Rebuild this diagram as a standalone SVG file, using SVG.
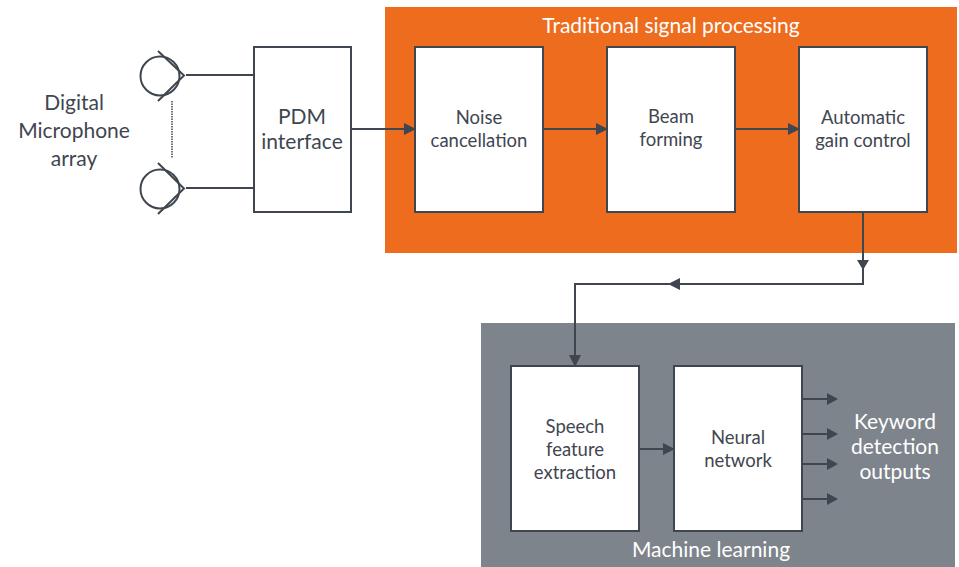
<svg xmlns="http://www.w3.org/2000/svg" width="959" height="567" viewBox="0 0 959 567">
<style>
.b{fill:#fff;stroke:#3f4650;stroke-width:2}
.c{fill:none;stroke:#3f4650;stroke-width:2}
.a{fill:#3f4650;stroke:none}
text{font-family:Lato,"Open Sans",sans-serif;text-anchor:middle;fill:#3f4650}
.s{font-size:18.5px}
.l{font-size:21px}
.w{fill:#fff;font-size:21px}
</style>
<rect width="959" height="567" fill="#fff"/>
<g id="traditional-group"><rect x="385" y="7" width="572" height="246" fill="#ee6c1d"/><text class="w" x="671" y="33">Traditional signal processing</text></g>
<g id="ml-group"><rect x="481" y="323" width="474" height="244" fill="#7d848b"/><text class="w" x="711" y="557">Machine learning</text></g>
<g id="connectors">
<path class="c" d="M186 75H254M186 188H254"/>
<path class="c" d="M172 101V158" stroke-width="1" style="stroke-width:1.5;stroke-dasharray:1.5 1"/>
<path class="c" d="M351 129H405"/><path class="a" d="M404 123L416 129L404 135Z"/>
<path class="c" d="M543 129H597"/><path class="a" d="M596 123L608 129L596 135Z"/>
<path class="c" d="M735 129H789"/><path class="a" d="M788 123L800 129L788 135Z"/>
<path class="c" d="M863 212V284H575V356"/><path class="a" d="M857 260L863 270L869 260Z"/>
<path class="a" d="M680 278L668 284L680 290Z"/>
<path class="a" d="M569 355L575 367L581 355Z"/>
<path class="c" d="M639 449H664"/><path class="a" d="M663 443L675 449L663 455Z"/>
<path class="c" d="M802 399H828M802 434H828M802 464H828M802 499H828"/>
<path class="a" d="M827 393L838 399L827 405ZM827 428L838 434L827 440ZM827 458L838 464L827 470ZM827 493L838 499L827 505Z"/>
</g>
<g id="mic-top"><circle cx="160" cy="76" r="19.500" class="c"/><path class="c" d="M158 51L184 75.500L158 101"/></g>
<g id="mic-bottom"><circle cx="160" cy="189" r="19.500" class="c"/><path class="c" d="M158 163L184 188.500L158 214"/></g>
<g id="mic-label"><text class="l" x="74" y="110">Digital</text><text class="l" x="74" y="138">Microphone</text><text class="l" x="74" y="166">array</text></g>
<g id="pdm"><rect class="b" x="254" y="47" width="97" height="165"/><text class="l" x="302" y="124">PDM</text><text class="l" x="302" y="149">interface</text></g>
<g id="noise"><rect class="b" x="415" y="47" width="128" height="165"/><text class="s" x="479" y="124">Noise</text><text class="s" x="479" y="147">cancellation</text></g>
<g id="beam"><rect class="b" x="607" y="47" width="128" height="165"/><text class="s" x="671" y="123">Beam</text><text class="s" x="671" y="146">forming</text></g>
<g id="agc"><rect class="b" x="799" y="47" width="128" height="165"/><text class="s" x="863" y="124">Automatic</text><text class="s" x="863" y="147">gain control</text></g>
<g id="speech"><rect class="b" x="511" y="366" width="128" height="165"/><text class="s" x="575" y="433">Speech</text><text class="s" x="575" y="456">feature</text><text class="s" x="575" y="479">extraction</text></g>
<g id="neural"><rect class="b" x="674" y="366" width="128" height="165"/><text class="s" x="738" y="444">Neural</text><text class="s" x="738" y="467">network</text></g>
<g id="outputs-label"><text class="w" x="895" y="429">Keyword</text><text class="w" x="895" y="454">detection</text><text class="w" x="895" y="479">outputs</text></g>
</svg>
